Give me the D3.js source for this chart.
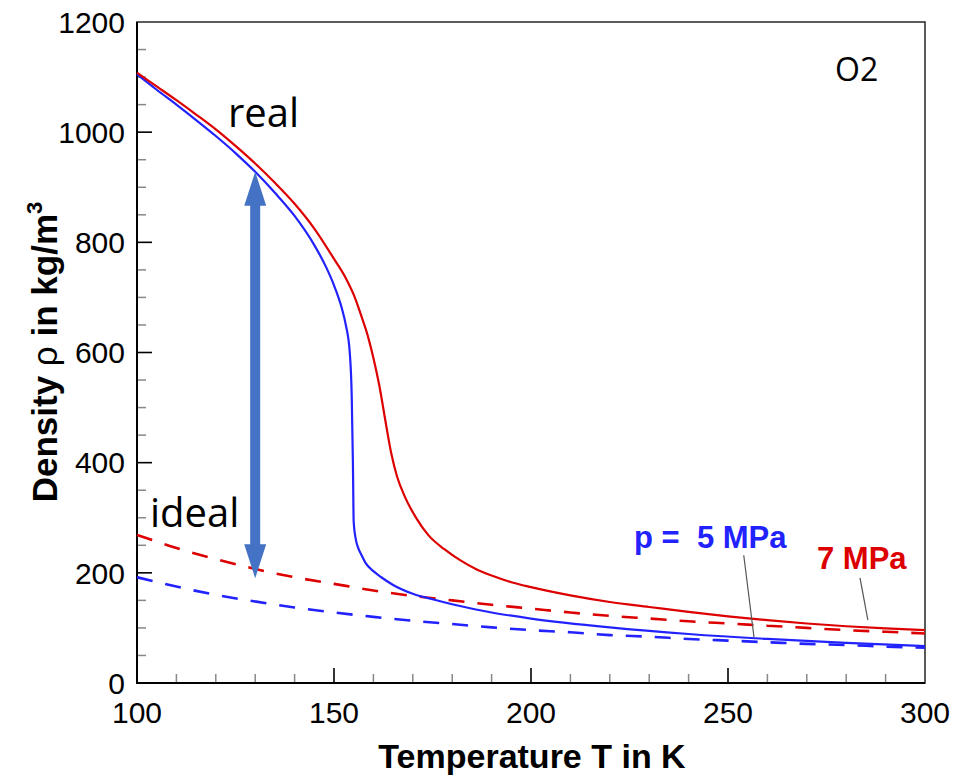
<!DOCTYPE html>
<html>
<head>
<meta charset="utf-8">
<script src="https://cdn.jsdelivr.net/npm/d3@7"></script>
<style>
  html, body { margin: 0; padding: 0; background: #fff; }
  svg { display: block; }
</style>
</head>
<body>
<svg id="chart" width="953" height="781"></svg>
<script>
// Real-gas density of O2 at 5 MPa (blue) and 7 MPa (red), solid lines
const realT5   = [100, 105, 110, 115, 120, 125, 130, 135, 140, 145, 148, 150, 152, 153, 154, 154.5, 154.8, 155, 155.5, 156, 157, 158, 160, 162, 165, 170, 175, 180, 190, 200, 220, 240, 260, 280, 300];
const realRho5 = [1105, 1077, 1050, 1022, 993, 962, 928, 890, 848, 795, 755, 722, 680, 650, 600, 520, 400, 292, 262, 248, 232, 218, 203, 192, 178, 162, 152, 143, 128, 117, 101, 89, 80, 73, 67];

const realT7   = [100, 105, 110, 115, 120, 125, 130, 135, 140, 145, 150, 153, 155, 157, 158.5, 160, 161.5, 163, 164.5, 166, 168, 171, 174, 178, 182, 186, 190, 195, 200, 210, 220, 230, 240, 250, 260, 270, 280, 290, 300];
const realRho7 = [1108, 1083, 1058, 1032, 1005, 975, 943, 908, 870, 825, 770, 735, 705, 665, 632, 590, 540, 478, 418, 375, 338, 298, 268, 243, 223, 207, 195, 183, 174, 159, 147, 138, 129, 121, 114, 108, 103, 99, 96];

// Ideal-gas density, dashed lines
const idealT      = [100, 110, 120, 130, 140, 150, 160, 170, 180, 190, 200, 210, 220, 230, 240, 250, 260, 270, 280, 290, 300];
const idealRho5   = [192, 175, 160, 148, 137, 128, 120, 113, 107, 101, 96, 92, 87, 84, 80, 77, 74, 71, 69, 66, 64];
const idealRho7   = [269, 245, 225, 207, 192, 180, 168, 158, 150, 142, 135, 128, 122, 117, 112, 108, 104, 100, 96, 93, 90];

// Axis ticks
const xTicks = [100, 150, 200, 250, 300];
const yTicks = [0, 200, 400, 600, 800, 1000, 1200];

// Double arrow between ideal and real at T = 130 K
const arrowT = 130, arrowTop = 928, arrowBottom = 190;

// Leader lines from pressure labels to curves: [T1, rho1, T2, rho2]
const leader5 = [254, 232, 256.6, 83];
const leader7 = [283.5, 191, 285.5, 114];

const svg = d3.select("#chart");
const mLeft = 137, mRight = 925, mTop = 22, mBottom = 683;

const x = d3.scaleLinear().domain([100, 300]).range([mLeft, mRight]);
const y = d3.scaleLinear().domain([0, 1200]).range([mBottom, mTop]);

const BLUE = "#2222ff", RED = "#dd0000";
const axisFont = "'Liberation Sans', Arial, Helvetica, sans-serif";
const noteFont = "'Open Sans', 'Noto Sans', sans-serif";

// Minor ticks (gray) and major ticks (black), pointing inwards
const g = svg.append("g");
d3.range(110, 300, 10).filter(v => v % 50 !== 0).forEach(v => {
  g.append("line").attr("x1", x(v)).attr("x2", x(v)).attr("y1", mBottom).attr("y2", mBottom - 9)
    .attr("stroke", "#888").attr("stroke-width", 1.5);
});
d3.range(50, 1200, 50).filter(v => v % 200 !== 0).forEach(v => {
  g.append("line").attr("x1", mLeft).attr("x2", mLeft + 9).attr("y1", y(v)).attr("y2", y(v))
    .attr("stroke", "#888").attr("stroke-width", 1.5);
});
xTicks.slice(1, -1).forEach(v => {
  g.append("line").attr("x1", x(v)).attr("x2", x(v)).attr("y1", mBottom).attr("y2", mBottom - 15)
    .attr("stroke", "#000").attr("stroke-width", 1.6);
});
yTicks.slice(1, -1).forEach(v => {
  g.append("line").attr("x1", mLeft).attr("x2", mLeft + 15).attr("y1", y(v)).attr("y2", y(v))
    .attr("stroke", "#000").attr("stroke-width", 1.6);
});

// Frame
svg.append("rect").attr("x", mLeft).attr("y", mTop).attr("width", mRight - mLeft).attr("height", mBottom - mTop)
  .attr("fill", "none").attr("stroke", "#333").attr("stroke-width", 1.6);
svg.append("path").attr("d", `M${mLeft},${mTop}V${mBottom}H${mRight}`)
  .attr("fill", "none").attr("stroke", "#000").attr("stroke-width", 2);

// Tick labels
svg.append("g").selectAll("text").data(xTicks).join("text")
  .attr("x", d => x(d)).attr("y", 723).attr("text-anchor", "middle")
  .attr("font-family", axisFont).attr("font-size", 30).attr("fill", "#000").text(d => d);
svg.append("g").selectAll("text").data(yTicks).join("text")
  .attr("x", 125).attr("y", d => y(d)).attr("dy", "0.36em").attr("text-anchor", "end")
  .attr("font-family", axisFont).attr("font-size", 30).attr("fill", "#000").text(d => d);

// Axis titles
svg.append("text").attr("x", 532).attr("y", 768).attr("text-anchor", "middle")
  .attr("font-family", axisFont).attr("font-size", 34).attr("font-weight", "bold")
  .text("Temperature T in K");
const yt = svg.append("text").attr("transform", "translate(57,352) rotate(-90)")
  .attr("text-anchor", "middle").attr("font-family", axisFont).attr("font-size", 35).attr("font-weight", "bold");
yt.append("tspan").text("Density ");
yt.append("tspan").attr("font-weight", "normal").text("ρ");
yt.append("tspan").text(" in kg/m");
yt.append("tspan").attr("font-size", 22).attr("dy", -15).text("3");

// Curves
const lineOf = (ts, rs) => d3.line().x((d, i) => x(ts[i])).y(d => y(d)).curve(d3.curveMonotoneX)(rs);
const plot = svg.append("g");
plot.append("path").attr("d", lineOf(idealT, idealRho5)).attr("fill", "none")
  .attr("stroke", BLUE).attr("stroke-width", 2.6).attr("stroke-dasharray", "16,13");
plot.append("path").attr("d", lineOf(idealT, idealRho7)).attr("fill", "none")
  .attr("stroke", RED).attr("stroke-width", 2.6).attr("stroke-dasharray", "16,13");
plot.append("path").attr("d", lineOf(realT5, realRho5)).attr("fill", "none")
  .attr("stroke", BLUE).attr("stroke-width", 2.2);
plot.append("path").attr("d", lineOf(realT7, realRho7)).attr("fill", "none")
  .attr("stroke", RED).attr("stroke-width", 2.2);

// Double-headed arrow
{
  const ax = x(arrowT), y1 = y(arrowTop), y2 = y(arrowBottom);
  const hw = 11, hl = 34, sw = 5;
  const d = `M${ax},${y1} L${ax + hw},${y1 + hl} L${ax + sw},${y1 + hl} L${ax + sw},${y2 - hl} L${ax + hw},${y2 - hl}
             L${ax},${y2} L${ax - hw},${y2 - hl} L${ax - sw},${y2 - hl} L${ax - sw},${y1 + hl} L${ax - hw},${y1 + hl} Z`;
  svg.append("path").attr("d", d).attr("fill", "#4472c4");
}

// Leader lines
[leader5, leader7].forEach(l => {
  svg.append("line").attr("x1", x(l[0])).attr("y1", y(l[1])).attr("x2", x(l[2])).attr("y2", y(l[3]))
    .attr("stroke", "#555").attr("stroke-width", 1.2);
});

// Labels
svg.append("text").attr("x", 634).attr("y", 548).attr("font-family", axisFont).attr("font-size", 31)
  .attr("font-weight", "bold").attr("fill", BLUE).style("white-space", "pre").text("p =  5 MPa");
svg.append("text").attr("x", 817).attr("y", 569).attr("font-family", axisFont).attr("font-size", 31)
  .attr("font-weight", "bold").attr("fill", RED).text("7 MPa");
svg.append("text").attr("x", 228).attr("y", 127).attr("font-family", noteFont).attr("font-size", 40)
  .attr("fill", "#000").text("real");
svg.append("text").attr("x", 150).attr("y", 527).attr("font-family", noteFont).attr("font-size", 40)
  .attr("fill", "#000").text("ideal");
svg.append("text").attr("x", 835).attr("y", 81).attr("font-family", noteFont).attr("font-size", 32)
  .attr("fill", "#000").text("O2");
</script>
</body>
</html>
